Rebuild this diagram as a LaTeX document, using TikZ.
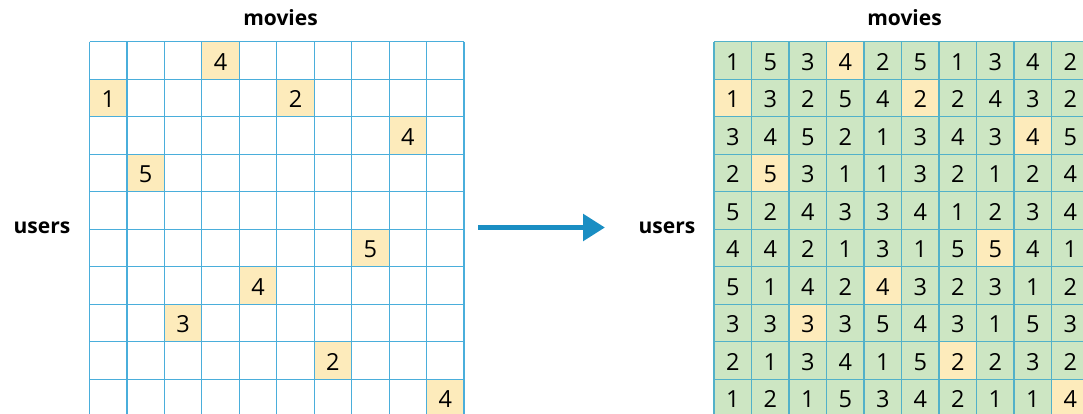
\documentclass[tikz,border=0pt]{standalone}
\usepackage{fontspec}
\setmainfont{Open Sans}
\usetikzlibrary{arrows.meta}

\definecolor{gridblue}{HTML}{4AAEDB}
\definecolor{gridteal}{HTML}{52B1C9}
\definecolor{knownfill}{HTML}{FDEBBB}
\definecolor{guessfill}{HTML}{CDE6C3}
\definecolor{arrowblue}{HTML}{1A8EC3}

\tikzset{
  cellbox/.style={inner sep=0pt, outer sep=0pt, minimum width=37.45pt,
    minimum height=37.5pt, text height=19.8pt, text depth=0pt,
    font=\fontsize{23.5}{24}\selectfont, anchor=center},
  knowncell/.style={cellbox, fill=knownfill},
  guesscell/.style={cellbox, fill=guessfill},
  blankcell/.style={cellbox, fill=white},
  gridline/.style={draw=gridblue, line width=1.1pt},
  gridlinefull/.style={draw=gridteal, line width=1.1pt},
  axislabel/.style={font=\fontsize{21}{22}\bfseries\selectfont, inner sep=0pt, anchor=base},
  flowarrow/.style={draw=arrowblue, line width=5.5pt,
    -{Triangle[length=22pt,width=26pt]}},
}

\begin{document}
\begin{tikzpicture}[x=1pt,y=-1pt]
  \useasboundingbox (0,0) rectangle (1083,414);
  \clip (0,0) rectangle (1083,414);

  % ratings: value/observed flag, one row per user
  \foreach \row [count=\r] in {
    {1/0,5/0,3/0,4/1,2/0,5/0,1/0,3/0,4/0,2/0},
    {1/1,3/0,2/0,5/0,4/0,2/1,2/0,4/0,3/0,2/0},
    {3/0,4/0,5/0,2/0,1/0,3/0,4/0,3/0,4/1,5/0},
    {2/0,5/1,3/0,1/0,1/0,3/0,2/0,1/0,2/0,4/0},
    {5/0,2/0,4/0,3/0,3/0,4/0,1/0,2/0,3/0,4/0},
    {4/0,4/0,2/0,1/0,3/0,1/0,5/0,5/1,4/0,1/0},
    {5/0,1/0,4/0,2/0,4/1,3/0,2/0,3/0,1/0,2/0},
    {3/0,3/0,3/1,3/0,5/0,4/0,3/0,1/0,5/0,3/0},
    {2/0,1/0,3/0,4/0,1/0,5/0,2/1,2/0,3/0,2/0},
    {1/0,2/0,1/0,5/0,3/0,4/0,2/0,1/0,1/0,4/1}}{
    \foreach \v/\k [count=\c] in \row {
      \ifnum\k=1
        \node[knowncell] (L-\r-\c) at ({89.5+(\c-0.5)*37.45},{41.7+(\r-0.5)*37.5}) {\v};
        \node[knowncell] (R-\r-\c) at ({714+(\c-0.5)*37.5},{41.7+(\r-0.5)*37.5}) {\v};
      \else
        \node[blankcell] (L-\r-\c) at ({89.5+(\c-0.5)*37.45},{41.7+(\r-0.5)*37.5}) {};
        \node[guesscell] (R-\r-\c) at ({714+(\c-0.5)*37.5},{41.7+(\r-0.5)*37.5}) {\v};
      \fi
    }
  }

  % grid lines of both matrices
  \foreach \i in {0,...,10} {
    \draw[gridline] ({89.5+\i*37.45},41.7) -- ({89.5+\i*37.45},416.7);
    \draw[gridline] (89.5,{41.7+\i*37.5}) -- (464,{41.7+\i*37.5});
    \draw[gridlinefull] ({714+\i*37.5},41.7) -- ({714+\i*37.5},416.7);
    \draw[gridlinefull] (714,{41.7+\i*37.5}) -- (1089,{41.7+\i*37.5});
  }

  % axis labels
  \node[axislabel] (movies-left) at (280.5,26) {movies};
  \node[axislabel] (movies-right) at (904.5,26) {movies};
  \node[axislabel] (users-left) at (42,233) {users};
  \node[axislabel] (users-right) at (667,233) {users};

  % completion arrow
  \coordinate (arrow-start) at (478,227.5);
  \coordinate (arrow-end) at (605,227.5);
  \draw[flowarrow] (arrow-start) -- (arrow-end);
\end{tikzpicture}
\end{document}
